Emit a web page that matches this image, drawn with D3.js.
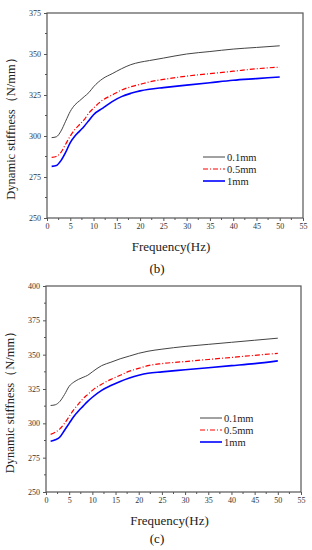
<!DOCTYPE html>
<html>
<head>
<meta charset="utf-8">
<script src="https://cdn.jsdelivr.net/npm/d3@7"></script>
<style>
  body { margin: 0; background: #fff; }
  svg { display: block; font-family: "Liberation Serif", "DejaVu Serif", serif; }
</style>
</head>
<body>
<script>
const width = 312, height = 550;

// shared frequency points (Hz)
const freq = [1, 2, 3, 4, 5, 6, 7, 8, 9, 10, 12, 14, 16, 18, 20, 22, 25, 30, 35, 40, 45, 50];
const seriesNames = ["0.1mm", "0.5mm", "1mm"];
const xTicks = [0, 5, 10, 15, 20, 25, 30, 35, 40, 45, 50, 55];

// panel (b)
const b01 = [299, 299.5, 303, 309, 315, 319, 321.5, 324, 326.5, 330, 335, 338, 341, 343.5, 345, 346, 347.5, 350, 351.5, 353, 354, 355];
const b05 = [287, 287.5, 290, 295, 300, 304, 307, 310, 314, 317, 322, 325, 328, 330, 331.5, 333, 334.5, 336.5, 338, 339.5, 341, 342];
const b1  = [281.5, 282, 285, 290, 296, 300, 303, 306, 309.5, 313, 317, 321, 324, 326, 327.5, 328.5, 329.5, 331, 332.5, 334, 335, 336];
const bYTicks = [250, 275, 300, 325, 350, 375];

// panel (c)
const c01 = [313, 313.5, 316, 321, 327, 330, 332, 333.5, 335, 337.5, 342, 344.5, 347, 349, 351, 352.5, 354, 356, 357.5, 359, 360.5, 362];
const c05 = [292, 293.5, 296, 300, 305, 310, 314, 318, 321, 324, 328.5, 332, 335, 338, 340, 342, 343.5, 345, 346.5, 348, 349.5, 351];
const c1  = [287, 288, 290, 295, 300, 305, 309, 312.5, 316, 319, 324, 327.5, 330.5, 333, 335, 336.5, 337.5, 339, 340.5, 342, 343.5, 345.5];
const cYTicks = [250, 275, 300, 325, 350, 375, 400];

const styles = [
  { color: "#444", width: 1, dash: null },
  { color: "#ff0000", width: 1.2, dash: "5,2,1,2" },
  { color: "#0000ff", width: 1.6, dash: null }
];

const svg = d3.select("body").append("svg")
  .attr("width", width)
  .attr("height", height);

function panel(cfg) {
  const x = d3.scaleLinear().domain([0, 55]).range([cfg.left, cfg.right]);
  const y = d3.scaleLinear().domain([250, cfg.yMax]).range([cfg.bottom, cfg.top]);
  const g = svg.append("g");

  // frame
  g.append("rect")
    .attr("x", cfg.left).attr("y", cfg.top)
    .attr("width", cfg.right - cfg.left).attr("height", cfg.bottom - cfg.top)
    .attr("fill", "none").attr("stroke", "#555").attr("stroke-width", 1.2);

  // x axis
  const xa = g.append("g")
    .attr("transform", `translate(0,${cfg.bottom})`)
    .call(d3.axisBottom(x).tickValues(xTicks).tickSize(3).tickPadding(2));
  xa.select(".domain").remove();
  xa.selectAll("line").attr("stroke", "#555");
  xa.selectAll("text").attr("font-size", 8).attr("fill", "#333")
    .attr("font-family", "Liberation Serif");
  g.append("g").selectAll("line")
    .data(d3.range(2.5, 55, 5))
    .join("line")
    .attr("x1", d => x(d)).attr("x2", d => x(d))
    .attr("y1", cfg.bottom).attr("y2", cfg.bottom + 2)
    .attr("stroke", "#555");

  // y axis
  const ya = g.append("g")
    .attr("transform", `translate(${cfg.left},0)`)
    .call(d3.axisLeft(y).tickValues(cfg.yTicks).tickSize(3).tickPadding(3));
  ya.select(".domain").remove();
  ya.selectAll("line").attr("stroke", "#555");
  ya.selectAll("text").attr("font-size", 8).attr("fill", "#333")
    .attr("font-family", "Liberation Serif");
  g.append("g").selectAll("line")
    .data(d3.range(262.5, cfg.yMax, 25))
    .join("line")
    .attr("x1", cfg.left).attr("x2", cfg.left - 2)
    .attr("y1", d => y(d)).attr("y2", d => y(d))
    .attr("stroke", "#555");

  // lines
  const line = d3.line()
    .x(d => x(d[0]))
    .y(d => y(d[1]))
    .curve(d3.curveMonotoneX);
  cfg.series.forEach((vals, i) => {
    g.append("path")
      .datum(freq.map((f, k) => [f, vals[k]]))
      .attr("d", line)
      .attr("fill", "none")
      .attr("stroke", styles[i].color)
      .attr("stroke-width", styles[i].width)
      .attr("stroke-dasharray", styles[i].dash);
  });

  // legend
  seriesNames.forEach((name, i) => {
    const ly = cfg.legY + i * 12;
    g.append("line")
      .attr("x1", cfg.legX).attr("x2", cfg.legX + 22)
      .attr("y1", ly).attr("y2", ly)
      .attr("stroke", styles[i].color)
      .attr("stroke-width", styles[i].width)
      .attr("stroke-dasharray", styles[i].dash);
    g.append("text")
      .attr("x", cfg.legX + 24).attr("y", ly + 3.5)
      .attr("font-size", 10.5).attr("fill", "#222")
      .text(name);
  });

  // axis titles
  g.append("text")
    .attr("x", (cfg.left + cfg.right) / 2 - 4).attr("y", cfg.bottom + 33)
    .attr("text-anchor", "middle").attr("font-size", 13).attr("fill", "#222")
    .text("Frequency(Hz)");
  g.append("text")
    .attr("transform", `translate(${cfg.left - 32},${(cfg.top + cfg.bottom) / 2 + 10}) rotate(-90)`)
    .attr("text-anchor", "middle").attr("font-size", 12.5).attr("fill", "#222")
    .text("Dynamic stiffness（N/mm）");
  g.append("text")
    .attr("x", 157).attr("y", cfg.labelY)
    .attr("text-anchor", "middle").attr("font-size", 13).attr("fill", "#111")
    .text(cfg.label);
}

panel({
  left: 47, right: 303, top: 13, bottom: 218, yMax: 375,
  yTicks: bYTicks, series: [b01, b05, b1],
  legX: 203, legY: 157, label: "(b)", labelY: 273
});

panel({
  left: 46, right: 301, top: 286, bottom: 492, yMax: 400,
  yTicks: cYTicks, series: [c01, c05, c1],
  legX: 200, legY: 418, label: "(c)", labelY: 543
});
</script>
</body>
</html>
